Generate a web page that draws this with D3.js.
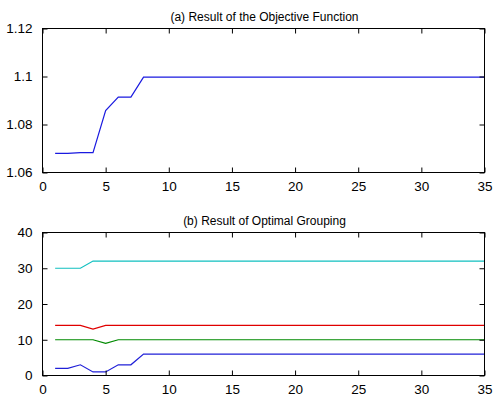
<!DOCTYPE html>
<html>
<head>
<meta charset="utf-8">
<script src="https://cdn.jsdelivr.net/npm/d3@7/dist/d3.min.js"></script>
<style>
html,body{margin:0;padding:0;background:#fff;}
svg{display:block;}
</style>
</head>
<body>
<svg id="chart" width="495" height="397"></svg>
<script>
// ---- data ----
const iterations = d3.range(1, 36);
const objective = [1.0680, 1.0680, 1.0683, 1.0683, 1.0858, 1.0914, 1.0914, 1.0997,
  1.0997, 1.0997, 1.0997, 1.0997, 1.0997, 1.0997, 1.0997, 1.0997, 1.0997, 1.0997,
  1.0997, 1.0997, 1.0997, 1.0997, 1.0997, 1.0997, 1.0997, 1.0997, 1.0997, 1.0997,
  1.0997, 1.0997, 1.0997, 1.0997, 1.0997, 1.0997, 1.0997];
const groupBlue  = [2, 2, 3, 1, 1, 3, 3, 6, 6, 6, 6, 6, 6, 6, 6, 6, 6, 6, 6, 6, 6, 6, 6, 6, 6, 6, 6, 6, 6, 6, 6, 6, 6, 6, 6];
const groupGreen = [10, 10, 10, 10, 9, 10, 10, 10, 10, 10, 10, 10, 10, 10, 10, 10, 10, 10, 10, 10, 10, 10, 10, 10, 10, 10, 10, 10, 10, 10, 10, 10, 10, 10, 10];
const groupRed   = [14, 14, 14, 13, 14, 14, 14, 14, 14, 14, 14, 14, 14, 14, 14, 14, 14, 14, 14, 14, 14, 14, 14, 14, 14, 14, 14, 14, 14, 14, 14, 14, 14, 14, 14];
const groupCyan  = [30, 30, 30, 32, 32, 32, 32, 32, 32, 32, 32, 32, 32, 32, 32, 32, 32, 32, 32, 32, 32, 32, 32, 32, 32, 32, 32, 32, 32, 32, 32, 32, 32, 32, 32];
const xTicks = [0, 5, 10, 15, 20, 25, 30, 35];
const yTicksA = [1.06, 1.08, 1.1, 1.12];
const yTicksB = [0, 10, 20, 30, 40];
const titleA = "(a) Result of the Objective Function";
const titleB = "(b) Result of Optimal Grouping";

const svg = d3.select("#chart");
const FONT = "'Liberation Sans', Arial, Helvetica, sans-serif";

function panel(top, bottom, yDomain, yTicks, yFmt, title, series) {
  const left = 42.5, right = 484.5;
  const x = d3.scaleLinear().domain([0, 35]).range([left, right]);
  const y = d3.scaleLinear().domain(yDomain).range([bottom, top]);
  const g = svg.append("g");
  const tl = 5;

  // data lines
  const line = d3.line().x((d, i) => x(iterations[i])).y(d => y(d));
  series.forEach(s => {
    g.append("path").datum(s.values).attr("d", line)
      .attr("fill", "none").attr("stroke", s.color).attr("stroke-width", 1.2);
  });

  // axes with inward ticks on all four sides
  const style = sel => {
    sel.select(".domain").remove();
    sel.selectAll(".tick line").attr("stroke", "#000").attr("stroke-width", 1);
    sel.selectAll(".tick text").attr("fill", "#000")
      .attr("font-family", FONT).attr("font-size", 13.5);
  };
  g.append("g").attr("transform", `translate(0,${bottom})`)
    .call(d3.axisBottom(x).tickValues(xTicks).tickSizeInner(-tl).tickSizeOuter(0)
      .tickPadding(9).tickFormat(d3.format("d"))).call(style);
  g.append("g").attr("transform", `translate(0,${top})`)
    .call(d3.axisTop(x).tickValues(xTicks).tickSizeInner(-tl).tickSizeOuter(0)
      .tickFormat("")).call(style);
  g.append("g").attr("transform", `translate(${left},0)`)
    .call(d3.axisLeft(y).tickValues(yTicks).tickSizeInner(-tl).tickSizeOuter(0)
      .tickPadding(10).tickFormat(yFmt)).call(style);
  g.append("g").attr("transform", `translate(${right},0)`)
    .call(d3.axisRight(y).tickValues(yTicks).tickSizeInner(-tl).tickSizeOuter(0)
      .tickFormat("")).call(style);

  // frame
  g.append("rect").attr("x", left).attr("y", top)
    .attr("width", right - left).attr("height", bottom - top)
    .attr("fill", "none").attr("stroke", "#000").attr("stroke-width", 1);

  g.append("text").attr("x", (left + right) / 2 + 1).attr("y", top - 8)
    .attr("text-anchor", "middle")
    .attr("font-family", FONT).attr("font-size", 12)
    .attr("fill", "#000").text(title);
}

panel(28.5, 172.5, [1.06, 1.12], yTicksA, d3.format(""), titleA,
  [{values: objective, color: "#1a1ae0"}]);
panel(232.5, 375.5, [0, 40], yTicksB, d3.format("d"), titleB,
  [{values: groupBlue, color: "#2020d8"},
   {values: groupGreen, color: "#008a00"},
   {values: groupRed, color: "#e00000"},
   {values: groupCyan, color: "#10c0c0"}]);
</script>
</body>
</html>
